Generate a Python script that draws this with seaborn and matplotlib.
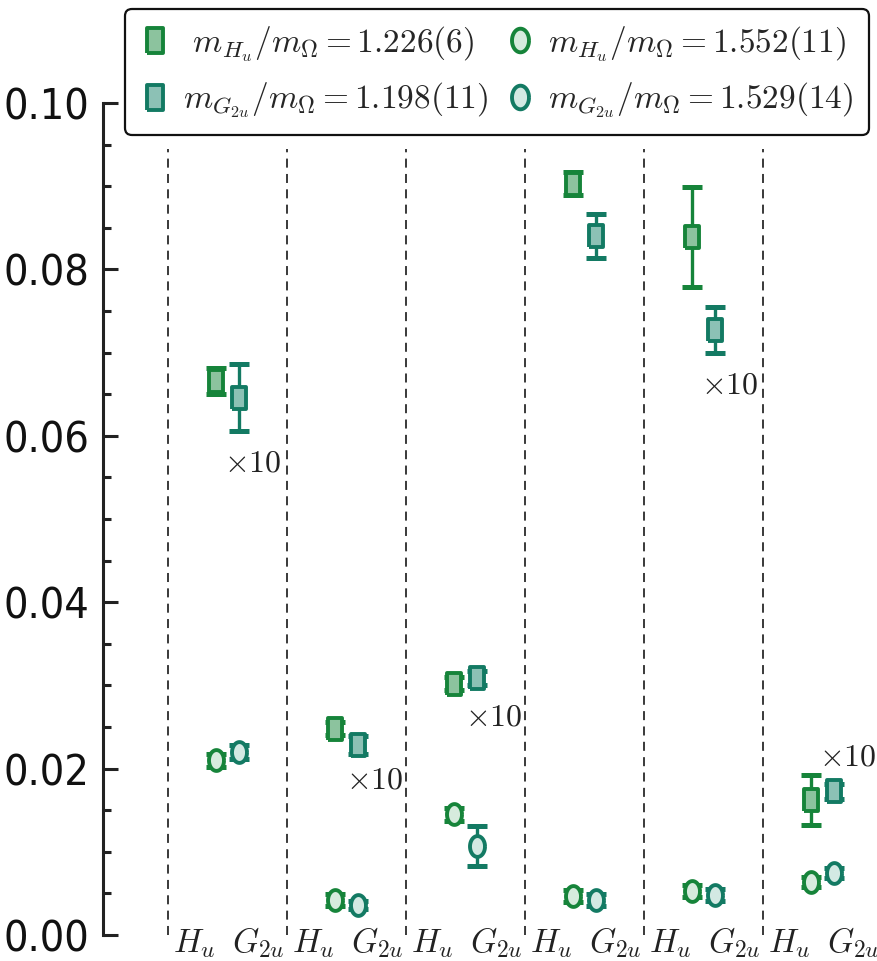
import numpy as np
import pandas as pd
import matplotlib
matplotlib.use("Agg")
import matplotlib.pyplot as plt
from matplotlib import font_manager
import seaborn as sns

# ---------------- data (values as displayed on the axis) ----------------
groups = [0, 1, 2, 3, 4, 5]
times_ten = [True, True, True, False, True, True]

sq_hu = [0.0666, 0.0248, 0.0302, 0.0903, 0.0839, 0.0162]
sq_hu_err = [0.0016, 0.0008, 0.0008, 0.0014, 0.0060, 0.0030]
sq_g2u = [0.0646, 0.0228, 0.0309, 0.0840, 0.0727, 0.0173]
sq_g2u_err = [0.0040, 0.0011, 0.0008, 0.0026, 0.0028, 0.0009]

ci_hu = [0.0210, 0.0042, 0.0145, 0.0047, 0.0053, 0.0064]
ci_hu_err = [0.0008, 0.0007, 0.0008, 0.0007, 0.0007, 0.0006]
ci_g2u = [0.0220, 0.0036, 0.0107, 0.0042, 0.0048, 0.0075]
ci_g2u_err = [0.0008, 0.0005, 0.0024, 0.0007, 0.0007, 0.0006]

legend_labels = [r"$\ m_{H_u}/m_\Omega = 1.226(6)$",
                 r"$m_{G_{2u}}/m_\Omega = 1.198(11)$",
                 r"$m_{H_u}/m_\Omega = 1.552(11)$",
                 r"$m_{G_{2u}}/m_\Omega = 1.529(14)$"]
yticks = [0.00, 0.02, 0.04, 0.06, 0.08, 0.10]
ytick_labels = ["0.00", "0.02", "0.04", "0.06", "0.08", "0.10"]

# positions of the "x10" notes (data coords)
note_x = [0.21, 1.24, 2.24, None, 4.22, 5.21]
note_y = [0.0567, 0.0186, 0.0262, None, 0.0661, 0.0214]

# ---------------- style ----------------
sns.set_theme(style="white")
plt.rcParams["mathtext.fontset"] = "cm"
plt.rcParams["font.family"] = ["DejaVu Sans"]

# pick a condensed sans for the tick labels if one is installed
tick_font = None
for f in font_manager.fontManager.ttflist:
    if f.stretch in ("condensed", "semi-condensed", "extra-condensed") and \
            f.style == "normal" and f.weight in (400, "normal", "regular"):
        tick_font = f
        if "DejaVu" in f.name or "Liberation" in f.name:
            break
if tick_font is not None:
    tick_fp = font_manager.FontProperties(fname=tick_font.fname, size=31)
else:
    tick_fp = font_manager.FontProperties(family="Roboto", size=28)

c_hu = "#16843a"
c_g2u = "#137a63"
fill_sq_hu = "#8cc39e"
fill_sq_g2u = "#8cc1b5"
fill_ci_hu = "#d6ebdd"
fill_ci_g2u = "#d3e9e3"

rect = [(-0.33, -0.5), (0.33, -0.5), (0.33, 0.5), (-0.33, 0.5), (-0.33, -0.5)]
th = np.linspace(0, 2 * np.pi, 61)
ell = list(zip(0.36 * np.cos(th), 0.5 * np.sin(th)))

fig = plt.figure(figsize=(8.78, 9.61), dpi=100)
ax = fig.add_axes([103 / 878, 26 / 961, (878 - 103) / 878, (935 - 103) / 961])

off = 0.1
x = np.array(groups, dtype=float)

series = [
    (x - off, sq_hu, sq_hu_err, c_hu, fill_sq_hu, rect, 16),
    (x + off, sq_g2u, sq_g2u_err, c_g2u, fill_sq_g2u, rect, 16),
    (x - off, ci_hu, ci_hu_err, c_hu, fill_ci_hu, ell, 15),
    (x + off, ci_g2u, ci_g2u_err, c_g2u, fill_ci_g2u, ell, 15),
]

handles = []
for xs, ys, es, col, fc, mk, ms in series:
    ax.errorbar(xs, ys, yerr=es, fmt="none", ecolor=col, elinewidth=2.4,
                capsize=7, capthick=3.6, zorder=2)
    df = pd.DataFrame({"x": xs, "y": ys})
    sns.scatterplot(data=df, x="x", y="y", ax=ax, marker=mk, s=ms ** 2,
                    color=fc, edgecolor=col, linewidth=2.8, zorder=3,
                    legend=False)
    ax.collections[-1].set_joinstyle("round")
    h = matplotlib.lines.Line2D([], [], linestyle="none", marker=mk,
                                markersize=ms + 2, markerfacecolor=fc,
                                markeredgecolor=col, markeredgewidth=2.8)
    handles.append(h)

# dashed separators
for b in np.arange(-0.5, 5.0, 1.0):
    ax.plot([b, b], [0, 0.0945], linestyle=(0, (5, 3.5)), color="#2a2a2a",
            lw=1.3, zorder=1)

# x10 notes
for nx, ny, t in zip(note_x, note_y, times_ten):
    if t:
        ax.text(nx, ny, r"$\times 10$", fontsize=23, ha="center",
                va="center", color="#222222")

# category labels under axis
for g in groups:
    ax.text(g - 0.28, -0.00205, r"$H_u$", fontsize=24, ha="center",
            va="baseline", color="#222222", clip_on=False)
    ax.text(g + 0.26, -0.00205, r"$G_{2u}$", fontsize=24, ha="center",
            va="baseline", color="#222222", clip_on=False)

ax.set_xlim(-1.046, 5.466)
ax.set_ylim(0, 0.1)
ax.set_xticks([])
ax.set_yticks(yticks)
ax.set_yticklabels(ytick_labels)
ax.set_yticks(np.arange(0, 0.1001, 0.005), minor=True)
ax.tick_params(axis="y", which="major", direction="in", length=11, width=2.2,
               pad=10, color="#222222", labelcolor="#111111", left=True)
ax.tick_params(axis="y", which="minor", direction="in", length=6, width=2.2,
               color="#222222", left=True)
for lab in ax.get_yticklabels():
    lab.set_fontproperties(tick_fp)
for s in ["top", "right", "bottom"]:
    ax.spines[s].set_visible(False)
ax.spines["left"].set_color("#222222")
ax.spines["left"].set_linewidth(2.2)
ax.set_xlabel("")
ax.set_ylabel("")
ax.patch.set_alpha(0)

leg = fig.legend(handles, legend_labels, ncol=2, loc="upper left",
                 bbox_to_anchor=(125 / 878, 1 - 9 / 961), fontsize=24,
                 frameon=True, fancybox=True, edgecolor="#111111",
                 framealpha=1, handletextpad=0.4, columnspacing=0.5,
                 borderpad=0.45, labelspacing=0.5, handlelength=0.9,
                 borderaxespad=0)
leg.get_frame().set_linewidth(1.6)

fig.savefig("out.png", dpi=100, facecolor="white")
